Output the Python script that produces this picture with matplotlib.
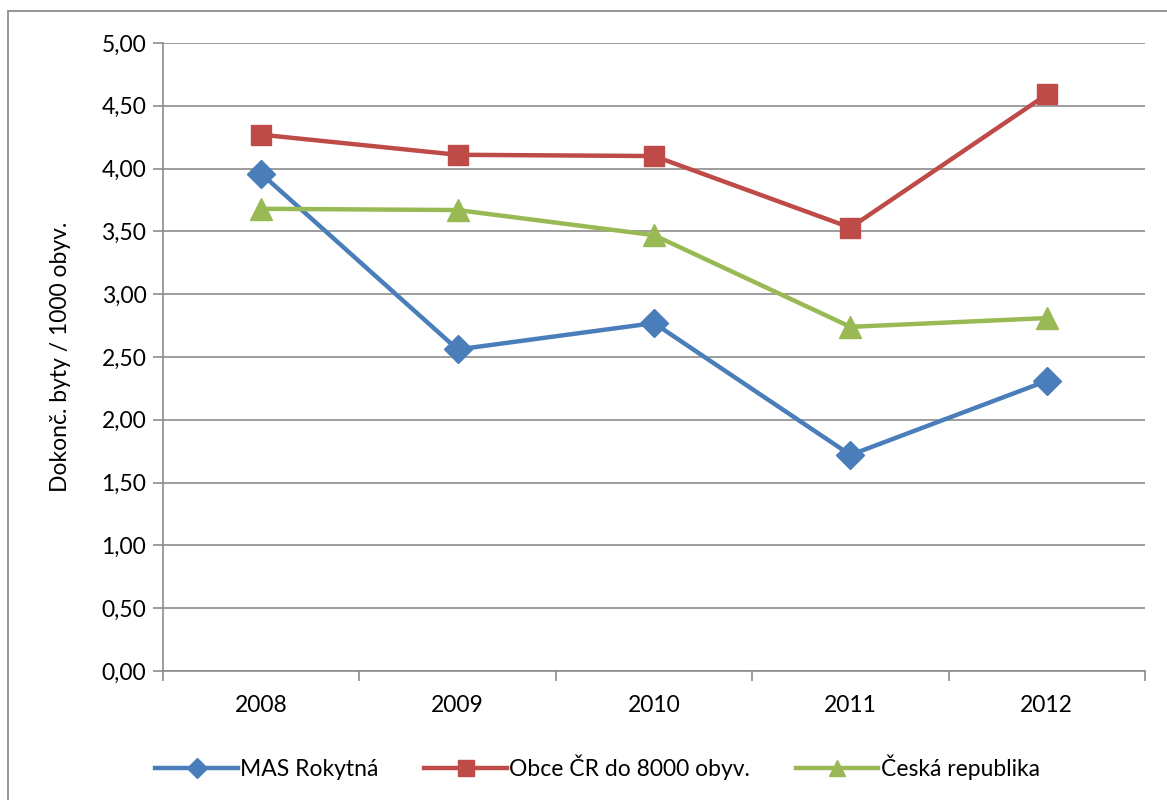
import matplotlib.pyplot as plt
from matplotlib.patches import Rectangle
from matplotlib.ticker import FuncFormatter, FixedLocator

years = ["2008", "2009", "2010", "2011", "2012"]
mas_rokytna = [3.96, 2.56, 2.77, 1.72, 2.31]
obce_cr = [4.27, 4.11, 4.10, 3.53, 4.59]
ceska_republika = [3.68, 3.67, 3.47, 2.74, 2.81]

series = [
    ("MAS Rokytná", mas_rokytna, "#4A7EBB", "D", 14),
    ("Obce ČR do 8000 obyv.", obce_cr, "#BE4B48", "s", 15),
    ("Česká republika", ceska_republika, "#98B954", "^", 16),
]

plt.rcParams['font.family'] = ['Lato', 'DejaVu Sans']

fig = plt.figure(figsize=(11.67, 8), dpi=100)
ax = fig.add_axes([163 / 1167, 1 - 671 / 800, (1145 - 163) / 1167, (671 - 43) / 800])

# outer chart border
fig.patches.append(Rectangle((8 / 1167, -0.05), 1.2, 1 - 11 / 800 + 0.05,
                             transform=fig.transFigure, fill=False,
                             edgecolor="#8c8c8c", linewidth=1.3))

x = range(len(years))
for name, vals, color, marker, ms in series:
    ax.plot(x, vals, color=color, linewidth=3.2, marker=marker, markersize=ms,
            label=name, solid_joinstyle="round")

ax.set_xlim(-0.5, len(years) - 0.5)
ax.set_ylim(0, 5)
ax.set_yticks([i * 0.5 for i in range(11)])
ax.yaxis.set_major_formatter(FuncFormatter(lambda v, p: f"{v:.2f}".replace(".", ",")))
ax.grid(axis="y", color="#8c8c8c", linewidth=1.2)
ax.set_axisbelow(True)

ax.set_xticks(list(x))
ax.set_xticklabels(years)
ax.xaxis.set_minor_locator(FixedLocator([i - 0.5 for i in range(len(years) + 1)]))
ax.tick_params(axis="x", which="major", length=0, pad=17, labelsize=16.5)
ax.tick_params(axis="x", which="minor", length=7, color="#8c8c8c", width=1.2)
ax.tick_params(axis="y", length=7, color="#8c8c8c", width=1.2, labelsize=16.5, pad=5)

for side in ["top", "right"]:
    ax.spines[side].set_visible(False)
for side in ["left", "bottom"]:
    ax.spines[side].set_color("#8c8c8c")
    ax.spines[side].set_linewidth(1.2)

ax.set_ylabel("Dokonč. byty / 1000 obyv.", fontsize=16.5, labelpad=22)

fig.legend(loc="center", bbox_to_anchor=(0.512, 1 - 767 / 800), ncol=3, frameon=False,
           fontsize=16.5, handlelength=3.6, columnspacing=2.0, handletextpad=0.1,
           markerscale=0.75)

fig.savefig("out.png", dpi=100)
